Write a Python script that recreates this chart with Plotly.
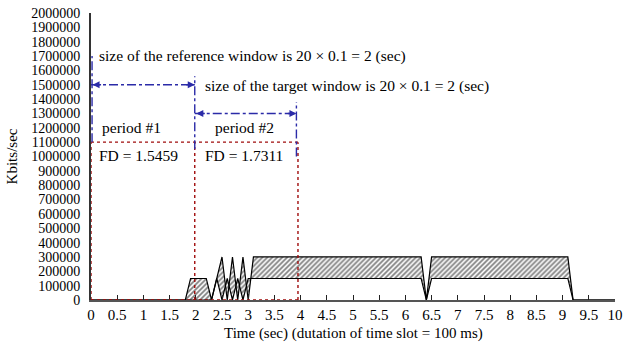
import plotly.graph_objects as go

# Traffic rate per time slot (Kbits/sec): upper and lower envelopes of the band
time_s = [0, 1.8, 1.9, 2.2, 2.3, 2.4, 2.5, 2.6, 2.7, 2.8, 2.9, 3.0, 3.1,
          6.3, 6.4, 6.5, 9.1, 9.2, 10]
upper = [0, 0, 150000, 150000, 0, 150000, 300000, 0, 300000, 0, 300000, 0,
         300000, 300000, 0, 300000, 300000, 0, 0]
lower = [0, 0, 0, 0, 0, 150000, 0, 150000, 0, 150000, 0, 150000,
         150000, 150000, 0, 150000, 150000, 0, 0]

x_ticks = [i * 0.5 for i in range(21)]
x_tick_labels = ["0", "0.5", "1", "1.5", "2", "2.5", "3", "3.5", "4", "4.5", "5",
                 "5.5", "6", "6.5", "7", "7.5", "8", "8.5", "9", "9.5", "10"]
y_ticks = list(range(0, 2000001, 100000))

# Window / period boundaries (sec) and levels
period_edges = [0, 1.98, 3.95]
period_top = 1100000
ref_window = (0, 1.98)
target_window = (1.98, 3.92)
ref_arrow_y = 1500000
target_arrow_y = 1300000
fd_values = ["FD = 1.5459", "FD = 1.7311"]

FONT = "Liberation Serif"
RED = "#a00c0c"
BLUE = "#2b2ba8"

fig = go.Figure()
fig.add_trace(go.Scatter(x=time_s, y=lower, mode="lines",
                         line=dict(color="black", width=1.2), showlegend=False))
fig.add_trace(go.Scatter(x=time_s, y=upper, mode="lines", fill="tonexty",
                         fillpattern=dict(shape="/", fgcolor="black", bgcolor="white",
                                          size=3.5, solidity=0.5),
                         line=dict(color="black", width=1.2), showlegend=False))

red_line = dict(color=RED, width=1.4, dash="dot")
shapes = [
    # red dotted period frames
    dict(type="line", xref="x", yref="y", x0=period_edges[0], x1=period_edges[-1],
         y0=period_top, y1=period_top, line=red_line),
    dict(type="line", xref="x", yref="y", x0=period_edges[0], x1=period_edges[-1],
         y0=0, y1=0, line=red_line),
]
for xv in period_edges:
    shapes.append(dict(type="line", xref="x", yref="y", x0=xv, x1=xv, y0=0, y1=period_top,
                       line=red_line))
# blue dash-dot window markers
for xv, y0, y1 in [(ref_window[0] + 0.02, period_top, 1700000),
                   (ref_window[1], 1050000, 1560000),
                   (target_window[1], 1000000, 1380000)]:
    shapes.append(dict(type="line", xref="x", yref="y", x0=xv, x1=xv, y0=y0, y1=y1,
                       line=dict(color=BLUE, width=1.4, dash="dashdot")))
for (a, b), yv in [(ref_window, ref_arrow_y), (target_window, target_arrow_y)]:
    shapes.append(dict(type="line", xref="x", yref="y", x0=a, x1=b, y0=yv, y1=yv,
                       line=dict(color=BLUE, width=1.4, dash="dashdot")))

annotations = []
for (a, b), yv in [(ref_window, ref_arrow_y), (target_window, target_arrow_y)]:
    annotations.append(dict(x=b, y=yv, xref="x", yref="y", ax=-10, ay=0, text="",
                            showarrow=True, arrowhead=2, arrowsize=1, arrowwidth=1.4,
                            arrowcolor=BLUE))
    annotations.append(dict(x=a + 0.03, y=yv, xref="x", yref="y", ax=10, ay=0, text="",
                            showarrow=True, arrowhead=2, arrowsize=1, arrowwidth=1.4,
                            arrowcolor=BLUE))

texts = [
    ("size of the reference window is 20 × 0.1 = 2 (sec)", 0.11, 1700000),
    ("size of the target window is 20 × 0.1 = 2 (sec)", 2.13, 1490000),
    ("period #1", 0.18, 1205000),
    ("period #2", 2.32, 1205000),
    (fd_values[0], 0.11, 1010000),
    (fd_values[1], 2.13, 1010000),
]
for txt, xv, yv in texts:
    annotations.append(dict(x=xv, y=yv, xref="x", yref="y", text=txt, showarrow=False,
                            xanchor="left", yanchor="middle",
                            font=dict(family=FONT, size=15.5, color="black")))

# axis titles
annotations.append(dict(text="Time (sec) (dutation of time slot = 100 ms)",
                        xref="paper", yref="paper", x=0.5, y=-0.115,
                        xanchor="center", yanchor="middle", showarrow=False,
                        font=dict(family=FONT, size=15, color="black")))
annotations.append(dict(text="Kbits/sec", textangle=-90,
                        xref="paper", yref="paper", x=-0.151, y=0.50,
                        xanchor="center", yanchor="middle", showarrow=False,
                        font=dict(family=FONT, size=15, color="black")))

fig.update_layout(
    width=634, height=344,
    margin=dict(l=91, r=19, t=13, b=44, autoexpand=False),
    paper_bgcolor="white", plot_bgcolor="white",
    font=dict(family=FONT, size=15, color="black"),
    shapes=shapes, annotations=annotations,
    xaxis=dict(range=[0, 10], tickvals=x_ticks, ticktext=x_tick_labels,
               ticks="inside", ticklen=5, tickwidth=1.2, tickcolor="#222",
               showline=True, linecolor="#555", linewidth=2, showgrid=False,
               zeroline=False, ticklabelstandoff=0, automargin=False),
    yaxis=dict(range=[0, 2000000], tickvals=y_ticks, tickformat="d",
               tickfont=dict(family=FONT, size=14),
               ticks="", showline=True, linecolor="#333", linewidth=2,
               showgrid=False, zeroline=False, ticklabelstandoff=6, automargin=False),
)

fig.write_html("out.html")
